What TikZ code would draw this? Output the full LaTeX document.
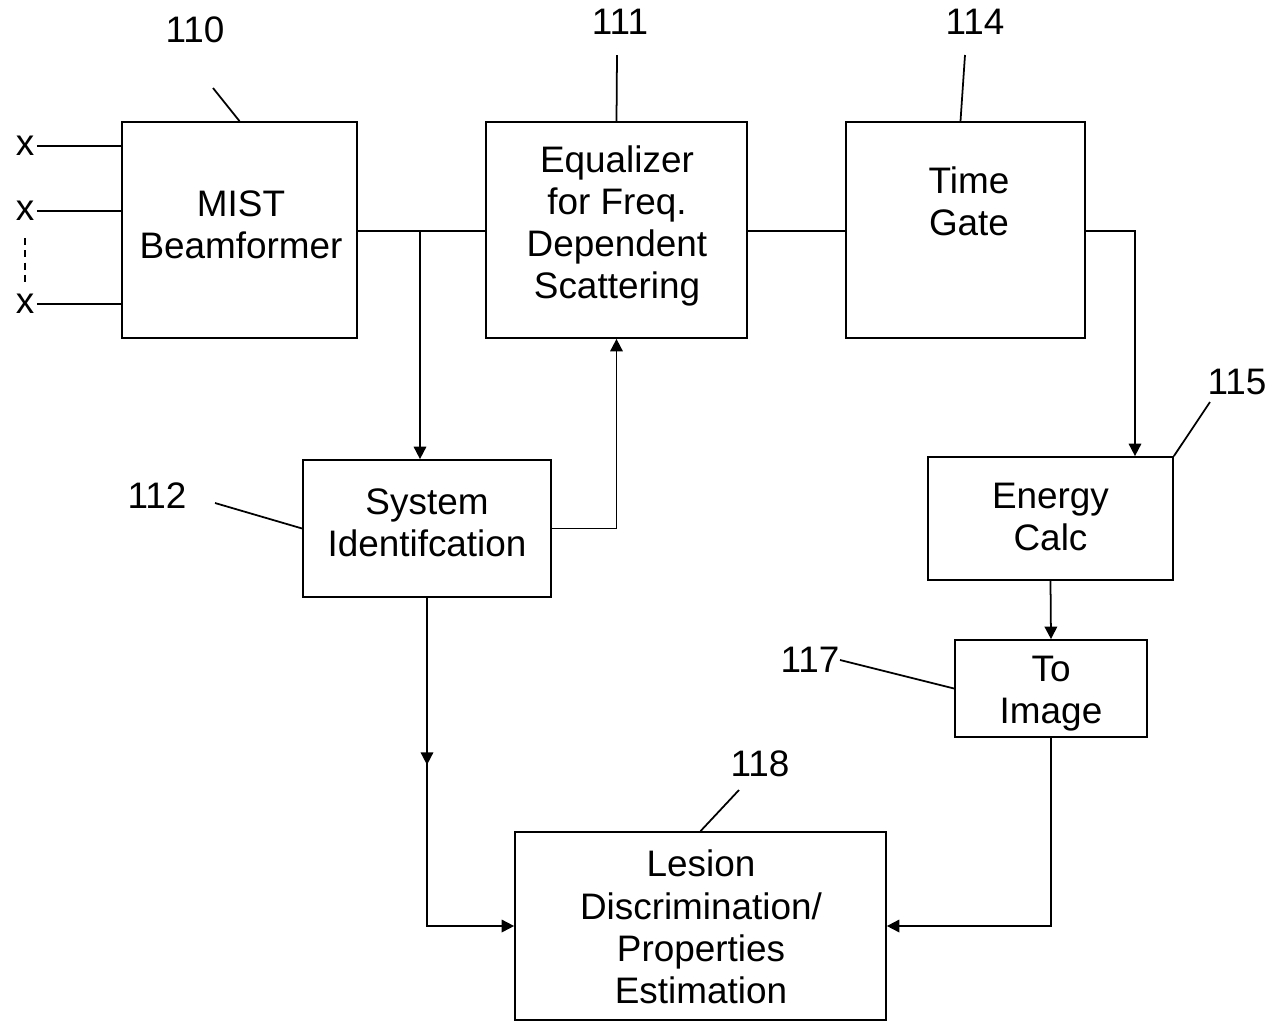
\documentclass[tikz,border=0pt]{standalone}
\usepackage{fontspec}
\setmainfont{Liberation Sans}
\usetikzlibrary{calc, arrows.meta}

\tikzset{
    every node/.style={font=\fontsize{21}{24}\selectfont},
    blk/.style={draw, line width=1pt, align=center, inner sep=0pt},
    txt/.style={align=center, inner sep=0pt},
    arr/.style={-{Triangle[length=2.5mm,width=2.5mm]}},
}

\begin{document}
\begin{tikzpicture}[x=0.02cm, y=-0.02cm, line width=1pt]
    \useasboundingbox (0,0) rectangle (1279,1029);

    % blocks
    \node[blk, minimum width=4.7cm, minimum height=4.32cm] (mist) at (239.5,230) {};
    \node[txt] (misttxt) at (241,225) {MIST\\Beamformer};
    \node[blk, minimum width=5.22cm, minimum height=4.32cm] (equal) at (616.5,230) {};
    \node[txt] (equaltxt) at (617,226) {Equalizer\\for Freq.\\Dependent\\Scattering};
    \node[blk, minimum width=4.78cm, minimum height=4.32cm] (gate) at (965.5,230) {};
    \node[txt] (gatetxt) at (969,201) {Time\\Gate};
    \node[blk, minimum width=4.96cm, minimum height=2.74cm] (sysid) at (427,528.5) {};
    \node[txt] (sysidtxt) at (427,523) {System\\Identifcation};
    \node[blk, minimum width=4.9cm, minimum height=2.46cm] (energy) at (1050.5,518.5) {};
    \node[txt] (energytxt) at (1050.5,517) {Energy\\Calc};
    \node[blk, minimum width=3.84cm, minimum height=1.94cm] (toimg) at (1051,688.5) {};
    \node[txt] (toimgtxt) at (1051,694) {To\\Image};
    \node[blk, minimum width=7.42cm, minimum height=3.76cm] (lesion) at (700.5,926) {};
    \node[txt] (lesiontxt) at (701,927) {Lesion\\Discrimination/\\Properties\\Estimation};

    % inputs
    \node[inner sep=1pt] (in1) at (25,146) {x};
    \node[inner sep=1pt] (in2) at (25,211) {x};
    \node[inner sep=1pt] (in3) at (25,304) {x};
    \draw (in1.east) -- (mist.west |- in1);
    \draw (in2.east) -- (mist.west |- in2);
    \draw (in3.east) -- (mist.west |- in3);
    \coordinate (dots1) at (25,238);
    \coordinate (dots2) at (25,284);
    \draw[line width=0.6pt, dash pattern=on 4pt off 3pt] (dots1) -- (dots2);

    % signal path
    \coordinate (split) at (420,231);
    \coordinate (gturn) at (1135,231);
    \draw (mist.east |- split) -- (equal.west |- split);
    \draw[arr] (split) -- (split |- sysid.north);
    \draw[arr] (sysid.east) -| (equal.south);
    \draw (equal.east |- gturn) -- (gate.west |- gturn);
    \draw[arr] (gate.east |- gturn) -- (gturn) -- (gturn |- energy.north);
    \draw[arr] (energy.south) -- (toimg.north);
    \draw[arr] (toimg.south) |- (lesion.east);
    \draw[arr] (sysid.south) -- ++(0,167);
    \draw[arr] (sysid.south) |- (lesion.west);

    % reference numerals
    \node (lb110) at (195,30) {110};
    \node (lb111) at (620,22) {111};
    \node (lb114) at (975,22) {114};
    \node (lb115) at (1237,382) {115};
    \node (lb112) at (157,496) {112};
    \node (lb117) at (810,660) {117};
    \node (lb118) at (760,764) {118};

    \coordinate (t110) at (213,88);
    \coordinate (t111) at (617,55);
    \coordinate (t114) at (965,55);
    \coordinate (t115) at (1210,402);
    \coordinate (t112) at (215,503);
    \coordinate (t117) at (840,660);
    \coordinate (t118) at (739,790);

    \draw (t110) -- (mist.north);
    \draw (t111) -- (equal.north);
    \draw (t114) -- ($(gate.north)+(-5,0)$);
    \draw (t115) -- (energy.north east);
    \draw (t112) -- (sysid.west);
    \draw (t117) -- (toimg.west);
    \draw (t118) -- (lesion.north);
\end{tikzpicture}
\end{document}
